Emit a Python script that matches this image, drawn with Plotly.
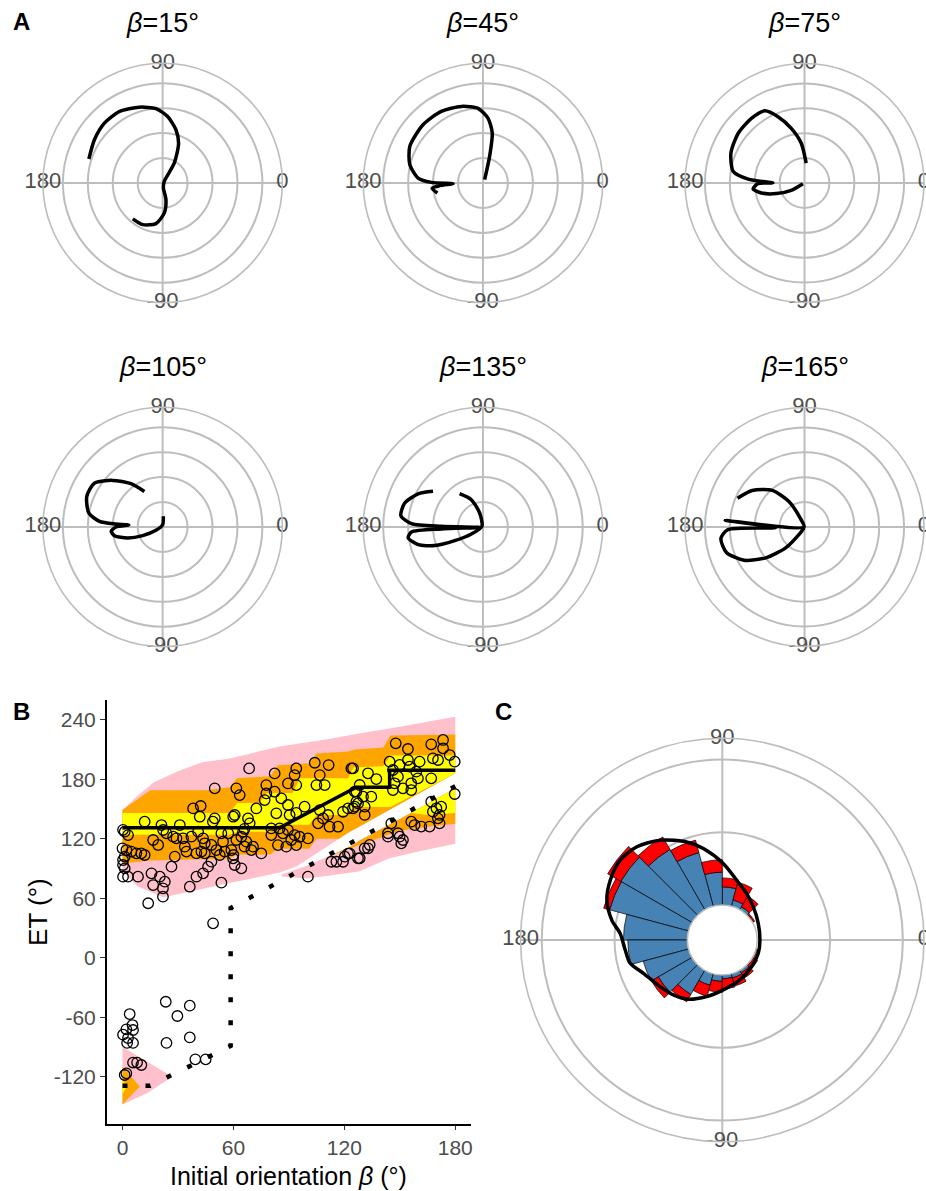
import plotly.graph_objects as go

W, H = 926, 1191
FONT = "Liberation Sans, Arial, Helvetica, sans-serif"
GRID = "#BDBDBD"
TICK_GREY = "#4D4D4D"

# ---------------- Panel A: heading trajectories (theta in deg, r in grid units) ----------------
theta_b15 = [-129.8, -115.6, -99.3, -86.8, -78.7, -82, 45, 59.7, 68.2, 76, 85.7, 95.1, 107.1, 121.2, 134.2, 147.6, 162]
r_b15 = [1.87, 1.85, 1.65, 1.2, 0.68, 0.2, 0.09, 0.93, 1.72, 2.2, 2.67, 2.99, 3.18, 3.35, 3.35, 3.24, 3.11]

theta_b45 = [63.4, 76, 79.4, 85.6, 93.8, 105.8, 120.2, 135.8, 153.4, 166, 175.6, 179.3, -178.7, -176.5, -174, -167.6]
r_b45 = [0.15, 1.1, 2.03, 2.61, 3.0, 3.19, 3.32, 3.35, 3.28, 3.02, 2.61, 2.07, 1.2, 1.74, 2.05, 1.87]

theta_b75 = [85.2, 94.8, 103.6, 111.8, 118.9, 129.4, 143.1, 157.9, 170.8, 176, 180, -179.2, -173.4, -167, -159.4, -151.2, -158]
r_b75 = [0.8, 1.61, 2.26, 2.87, 3.31, 3.36, 3.33, 3.19, 2.9, 2.27, 1.27, 1.87, 2.08, 1.78, 1.21, 0.61, 0.07]

theta_b105 = [117.2, 126.2, 137, 147.2, 158, 169.3, 174.9, 176.3, 176.6, 180, -175.2, -169.8, -162.6, -156.6, -153.4, 90, 86.4]
r_b105 = [1.6, 2.15, 2.74, 3.25, 3.28, 3.01, 2.54, 1.87, 1.36, 1.87, 2.07, 1.96, 1.47, 0.87, 0.3, 0.09, 0.43]

theta_b135 = [144.5, 152.9, 163, 172.2, 177.3, 179.1, -174, -177.3, -176, -171.7, -164.8, -158.9, -154.2, -149, 146, 103.4, 113.1, 125]
r_b135 = [2.46, 2.92, 3.28, 3.32, 2.87, 1.67, 0.13, 1.67, 2.87, 3.03, 2.69, 2.07, 1.26, 0.54, 0.05, 0.58, 1.19, 1.63]

theta_b165 = [156.7, 145, 131.4, 121.4, 115.6, 180, 175.2, -178.7, -178, -172.1, -161.9, -151.2, -141.5, -132.1, -126.5, -120]
r_b165 = [2.93, 2.56, 1.96, 1.2, 0.37, 0.02, 3.2, 1.16, 3.09, 3.39, 3.3, 2.77, 1.99, 1.13, 0.38, 0.03]

beta_titles = ["15", "45", "75", "105", "135", "165"]
angle_ticks = [0, 90, 180, 270]
angle_labels = ["0", "90", "180", "-90"]

# ---------------- Panel B: ET versus initial orientation ----------------
et_beta = [
    49.9, 38.2, 42.3, 41.8, 49.9, 48.9, 59.9, 12, 1.2, 3, 0.3, 21.1, 22, 23.8, 27.4, 31, 29.2, 32.8, 37.3, 16.6,
    19.3, 40.9, 43.6, 53.5, 57.2, 44.5, 48.1, 42.7, 54.4, 0, 2.1, 4.8, 7.5, 10.2, 12, 1.2, 0.3, 0.3, 1.2, 0.3,
    3, 8.4, 28.3, 34.6, 33.7, 40, 44.5, 50.8, 52.6, 55.3, 60, 48.1, 46.3, 43.6, 40, 26.5, 15.7, 20.2, 22.9, 16.6,
    21.9, 21.9, 13.9, 36.4, 53.5, 49,
    68.5, 82.3, 94, 93.1, 104, 111.5, 123.8, 89.5, 94, 106.7, 104.9, 109.4, 61.6, 63.4, 77.8, 77.8, 82.3, 85.9, 76.9,
    72.4, 83.2, 89.5, 90.4, 98.5, 94, 60.7, 67.9, 68.8, 66, 106.7, 111.2, 108.5, 105.8, 112, 116.6, 119.3, 122, 125.6,
    127.4, 126.5, 80.5, 85, 86.8, 89.5, 93.1, 95.8, 91.3, 94, 88.6, 84.1, 80.5, 100.3, 75.1, 65.2, 64.3, 61.6, 67, 66,
    70.6, 69.7, 58.9, 59.8, 60.7, 64.3, 113, 115.7, 119.3, 120.2, 127.4, 122, 100.3,
    147.8, 154.4, 167, 173.4, 173.4, 177, 179.7, 167.9, 170.7, 144.5, 154.4, 160.7, 149.9, 155.3, 124.7, 132.8, 137.3,
    146.3, 149, 158.9, 159.8, 167, 156.2, 151.7, 156.2, 147.2, 146.3, 128.3, 125.6, 130.1, 134.6, 126.5, 131, 124.7, 131,
    179.7, 167, 169.8, 172.4, 171.5, 170.6, 167.9, 145.4, 156.2, 158, 161.6, 166.1, 171.5, 143.6, 143.6, 149, 149.9,
    151.7, 150.8, 128.3, 131, 133.7, 132.8, 122.9,
    23.4, 36.4, 29.7, 3.9, 5.4, 2.1, 5.7, 0.3, 3, 2.5, 5.7, 23.8, 36.4, 5.7, 7.9, 10.2, 39.4, 45, 1.2, 2.1,
]
et_value = [
    170.8, 150.6, 153, 142.2, 140.6, 137.2, 142.2, 137.2, 127.1, 123.7, 129, 133.8, 128.8, 125.4, 122.1, 133.8, 120.4, 120.4, 122.1, 118.7,
    113.7, 127.1, 120.4, 125.4, 125.4, 115.4, 113.7, 107, 117, 110.3, 108.6, 107, 105.3, 105.3, 103.6, 102, 98.5, 93.5, 90.1, 81.7,
    81.7, 81.7, 102, 107, 112, 105.3, 105.3, 108.6, 103.6, 107, 103.6, 96.9, 91.8, 85.1, 81.7, 91.8, 85.1, 81.7, 76.7, 73.3,
    70, 61.6, 54.9, 71.6, 75.7, 34.7,
    190.9, 185.9, 190.9, 184.2, 196.6, 194.3, 190.9, 175.8, 174.1, 184.2, 174.1, 174.1, 170.8, 164, 174.1, 165.7, 167.4, 160.7, 159,
    150.6, 145.6, 154, 143.9, 152.3, 146, 143.9, 140.5, 135.5, 130, 148.9, 143.9, 140.5, 135.5, 132.1, 132.1, 147.2, 150.6, 152.3,
    155.6, 167.4, 130.4, 130.4, 125.4, 128.8, 123.7, 122, 118.7, 113.6, 112, 113.6, 123.7, 120.3, 105.2, 127.1, 122, 118.7, 117, 112,
    112, 108.6, 108.6, 100.2, 93.5, 90.1, 96.8, 96.8, 96.8, 101.9, 100.2, 105, 81.7,
    216.2, 210.5, 215.2, 219.6, 211.2, 204.4, 197.7, 201.1, 199.4, 197.7, 199.4, 197.7, 194.4, 192.7, 191, 186, 180.2,
    189.3, 182.6, 187.6, 180.9, 180.9, 175.9, 170.8, 169.1, 175.9, 169.1, 174.2, 167.5, 162.4, 162.4, 157.4, 152.3, 150.7, 144,
    165.1, 157.4, 150.7, 152.3, 144, 140.6, 147.3, 135.5, 137.2, 133.8, 132.2, 132.2, 135.5, 125.5, 122.1, 125.5, 122.1,
    118.7, 115.4, 100.3, 110.3, 113.7, 110.3, 105.3,
    -44.4, -48.4, -58.8, -56.8, -67.9, -72.2, -72.9, -77.6, -81, -85.9, -85.9, -85.9, -80.4, -105.8, -105.8, -108.2, -102.5, -102.5, -118.3, -116.6,
]

# median of the upper mode and model prediction
median_beta = [0, 85, 126.5, 144.5, 144.5, 180]
median_et = [131, 131, 172, 172, 189, 189]
model_beta = [0, 15, 58.5, 58.5, 180]
model_et = [-129, -129, -89, 50, 173]

# quantile ribbons of the upper mode
up_pink_hi_x = [0, 8, 17, 30, 43, 58, 85, 110, 128, 150, 165, 180]
up_pink_hi_y = [149, 163, 177, 188, 197, 201, 213, 220, 226, 233, 238, 243]
up_pink_lo_x = [0, 8, 22, 40, 57, 70, 85, 94, 123, 128, 180]
up_pink_lo_y = [88, 72, 61, 68, 75, 80, 86, 92, 127, 132, 186]
up_orange_hi_x = [0, 15, 45, 58, 62, 80, 84, 101, 105, 122, 126, 141, 145, 180]
up_orange_hi_y = [149, 169, 169, 172, 181, 183, 194, 196, 206, 208, 210, 212, 224, 225]
up_orange_lo_x = [0, 15, 58, 62, 80, 84, 101, 105, 117, 123, 128, 180]
up_orange_lo_y = [95, 98, 100, 104, 104, 110, 110, 120, 120, 127, 132, 186]
up_yellow_hi_x = [0, 58, 62, 74, 78, 92, 96, 122, 125, 141, 145, 180]
up_yellow_hi_y = [146, 146, 156, 156, 166, 166, 181, 181, 192, 193, 204, 204]
up_yellow_lo_x = [0, 58, 62, 80, 84, 101, 105, 122, 125, 145, 180]
up_yellow_lo_y = [124, 124, 127, 127, 134, 134, 144, 144, 152, 152, 186]

# quantile ribbons of the lower mode (right-hand branch)
lo_pink_hi_x = [86, 100, 123, 128, 150, 180]
lo_pink_hi_y = [84, 93, 112, 118, 140, 171]
lo_pink_lo_x = [86, 100, 128, 144, 160, 180]
lo_pink_lo_y = [82, 80, 87, 100, 107, 115]
lo_orange_hi_x = [110, 123, 128, 150, 180]
lo_orange_hi_y = [101, 112, 118, 140, 171]
lo_orange_lo_x = [110, 130, 150, 165, 180]
lo_orange_lo_y = [101, 115, 128, 132, 135]
lo_yellow_hi_x = [156, 180]
lo_yellow_hi_y = [146, 171]
lo_yellow_lo_x = [156, 165, 180]
lo_yellow_lo_y = [146, 144, 146]

# quantile ribbons of the lower mode (small-beta tail)
tail_pink_hi_x = [0, 27]
tail_pink_hi_y = [-90, -120]
tail_pink_lo_x = [0, 13, 27]
tail_pink_lo_y = [-148, -137, -120]
tail_orange_hi_x = [0, 9.4]
tail_orange_hi_y = [-110, -130]
tail_orange_lo_x = [0, 9.4]
tail_orange_lo_y = [-148, -130]
tail_yellow_hi_x = [0, 2.2]
tail_yellow_hi_y = [-123, -130]
tail_yellow_lo_x = [0, 2.2]
tail_yellow_lo_y = [-138, -130]

et_ticks = [-120, -60, 0, 60, 120, 180, 240]
beta_ticks = [0, 60, 120, 180]

# ---------------- Panel C: escape-direction distribution ----------------
bin_centres = [7.5, 22.5, 37.5, 52.5, 67.5, 82.5, 97.5, 112.5, 127.5, 142.5, 157.5, 172.5,
               187.5, 202.5, 217.5, 232.5, 247.5, 262.5, 277.5, 292.5, 307.5, 322.5, 337.5, 352.5]
count_blue = [0, 0, 0.14, 0.48, 0.89, 2.5, 4.52, 7.63, 9.56, 11.3, 11.22, 8.78,
              8.18, 6.44, 5.34, 3.84, 1.64, 0.88, 0.52, 0.59, 0.41, 0.14, 0, 0]
count_red = [0, 0, 0.2, 1.68, 2.53, 1.23, 1.71, 1.77, 1.99, 2.08, 0.84, 0,
             0, 0, 1.1, 1.16, 1.56, 1.51, 1.36, 1.15, 0.82, 0.66, 0.2, 0]
density_theta = [0, 24.8, 47.1, 62.5, 76.6, 89.3, 101.7, 110, 122, 132.5, 142, 151.9, 160.9, 169.8,
                 176.3, 185.9, 194.2, 202.9, 216.8, 228.3, 240.2, 254.5, 271.1, 293.8, 317.7, 339.7]
density_r = [0.37, 0.64, 1.44, 2.41, 3.66, 5.71, 8.03, 9.53, 11.34, 12.56, 13.0, 12.64, 11.97, 10.62,
             9.26, 8.6, 8.25, 6.95, 5.88, 5.3, 4.58, 3.26, 2.05, 1.19, 0.64, 0.47]

fig = go.Figure()

# ---- Panel A traces ----
trajectories = [(theta_b15, r_b15), (theta_b45, r_b45), (theta_b75, r_b75),
                (theta_b105, r_b105), (theta_b135, r_b135), (theta_b165, r_b165)]
RA_MAX = 4.8
for i, (th, rr) in enumerate(trajectories):
    sp = "polar" if i == 0 else f"polar{i + 1}"
    fig.add_trace(go.Scatterpolar(
        theta=th, r=rr, mode="lines", subplot=sp, hoverinfo="skip",
        line=dict(color="black", width=3.5, shape="spline", smoothing=0.7)))
    fig.add_trace(go.Scatterpolar(
        theta=angle_ticks, r=[RA_MAX] * 4, text=angle_labels, mode="text", subplot=sp,
        cliponaxis=False, hoverinfo="skip",
        textfont=dict(family=FONT, size=22, color=TICK_GREY)))

# ---- Panel B traces ----
def ribbon(hx, hy, lx, ly, colour):
    return go.Scatter(x=list(hx) + list(lx)[::-1], y=list(hy) + list(ly)[::-1],
                      fill="toself", fillcolor=colour, mode="none", hoverinfo="skip",
                      xaxis="x", yaxis="y")

PINK, ORANGE, YELLOW = "#FFC0CB", "#FFA500", "#FFFF00"
fig.add_trace(ribbon(up_pink_hi_x, up_pink_hi_y, up_pink_lo_x, up_pink_lo_y, PINK))
fig.add_trace(ribbon(lo_pink_hi_x, lo_pink_hi_y, lo_pink_lo_x, lo_pink_lo_y, PINK))
fig.add_trace(ribbon(tail_pink_hi_x, tail_pink_hi_y, tail_pink_lo_x, tail_pink_lo_y, PINK))
fig.add_trace(ribbon(up_orange_hi_x, up_orange_hi_y, up_orange_lo_x, up_orange_lo_y, ORANGE))
fig.add_trace(ribbon(lo_orange_hi_x, lo_orange_hi_y, lo_orange_lo_x, lo_orange_lo_y, ORANGE))
fig.add_trace(ribbon(tail_orange_hi_x, tail_orange_hi_y, tail_orange_lo_x, tail_orange_lo_y, ORANGE))
fig.add_trace(ribbon(up_yellow_hi_x, up_yellow_hi_y, up_yellow_lo_x, up_yellow_lo_y, YELLOW))
fig.add_trace(ribbon(lo_yellow_hi_x, lo_yellow_hi_y, lo_yellow_lo_x, lo_yellow_lo_y, YELLOW))
fig.add_trace(ribbon(tail_yellow_hi_x, tail_yellow_hi_y, tail_yellow_lo_x, tail_yellow_lo_y, YELLOW))

fig.add_trace(go.Scatter(x=model_beta, y=model_et, mode="lines", hoverinfo="skip",
                         line=dict(color="black", width=4.5, dash="5px,18px")))
fig.add_trace(go.Scatter(x=et_beta, y=et_value, mode="markers", hoverinfo="skip",
                         marker=dict(symbol="circle-open", size=10.5, color="black",
                                     line=dict(width=1.3, color="black"))))
fig.add_trace(go.Scatter(x=median_beta, y=median_et, mode="lines", hoverinfo="skip",
                         line=dict(color="black", width=3.5)))

# ---- Panel C traces ----
RC_MAX = 22.9
fig.add_trace(go.Barpolar(theta=bin_centres, r=count_blue, width=[15] * len(bin_centres),
                          subplot="polar7", hoverinfo="skip",
                          marker=dict(color="#4682B4", line=dict(color="black", width=0.7))))
fig.add_trace(go.Barpolar(theta=bin_centres, r=count_red, width=[15] * len(bin_centres),
                          subplot="polar7", hoverinfo="skip",
                          marker=dict(color="#FF0000", line=dict(color="black", width=0.7))))
fig.add_trace(go.Scatterpolar(theta=density_theta + density_theta[:1], r=density_r + density_r[:1],
                              mode="lines", subplot="polar7", hoverinfo="skip",
                              line=dict(color="black", width=3.5, shape="spline", smoothing=0.8)))
fig.add_trace(go.Scatterpolar(theta=angle_ticks, r=[RC_MAX] * 4, text=angle_labels, mode="text",
                              subplot="polar7", cliponaxis=False, hoverinfo="skip",
                              textfont=dict(family=FONT, size=22, color=TICK_GREY)))

# ---- Layout ----
def polar_box(cx, cy, rad, rmax, rticks, hole=0.0):
    x0, x1 = max((cx - rad) / W, 0), min((cx + rad) / W, 1)
    y0, y1 = (H - cy - rad) / H, (H - cy + rad) / H
    return dict(
        domain=dict(x=[x0, x1], y=[y0, y1]),
        bgcolor="rgba(0,0,0,0)",
        hole=hole,
        barmode="stack",
        radialaxis=dict(range=[0, rmax], tickvals=rticks, showticklabels=False, ticks="",
                        showline=False, gridcolor=GRID, gridwidth=1.6),
        angularaxis=dict(tickvals=angle_ticks, showticklabels=False, ticks="",
                         showline=True, linecolor=GRID, linewidth=1.6,
                         gridcolor=GRID, gridwidth=1.6,
                         direction="counterclockwise", rotation=0),
    )

centres_x = [163, 484, 806.5]
centres_y = [183, 527]
layout = dict(
    width=W, height=H, margin=dict(l=0, r=0, t=0, b=0),
    paper_bgcolor="white", plot_bgcolor="white", showlegend=False,
    font=dict(family=FONT),
)
for i in range(6):
    key = "polar" if i == 0 else f"polar{i + 1}"
    layout[key] = polar_box(centres_x[i % 3], centres_y[i // 3], 120, RA_MAX, [1, 2, 3, 4])
layout["polar7"] = polar_box(725.7, 940, 204, RC_MAX, [10, 20], hole=35 / 202)

layout["xaxis"] = dict(domain=[107 / W, 472 / W], range=[-8.5, 188.5], tickvals=beta_ticks,
                       ticktext=[str(v) for v in beta_ticks],
                       ticks="outside", ticklen=4, tickwidth=1.3, tickcolor="#333333",
                       showline=True, linecolor="black", linewidth=1.6, showgrid=False,
                       zeroline=False, tickfont=dict(size=21, color=TICK_GREY), anchor="y")
layout["yaxis"] = dict(domain=[(H - 1124) / H, (H - 700) / H], range=[-167.7, 259.9],
                       tickvals=et_ticks, ticktext=[str(v) for v in et_ticks],
                       ticks="outside", ticklen=5, tickwidth=1.3, tickcolor="#333333",
                       showline=True, linecolor="black", linewidth=1.6, showgrid=False,
                       zeroline=False, tickfont=dict(size=21, color=TICK_GREY), anchor="x")

ann = []
title_y = [23, 367]
for i, b in enumerate(beta_titles):
    ann.append(dict(text=f"<i>β</i>={b}°", x=centres_x[i % 3] / W, y=1 - title_y[i // 3] / H,
                    xref="paper", yref="paper", xanchor="center", yanchor="middle",
                    showarrow=False, font=dict(size=27, color="black", family=FONT)))
for lab, px, py in [("A", 11, 22), ("B", 11, 711), ("C", 494, 711)]:
    ann.append(dict(text=f"<b>{lab}</b>", x=px / W, y=1 - py / H, xref="paper", yref="paper",
                    xanchor="left", yanchor="middle", showarrow=False,
                    font=dict(size=24, color="black", family=FONT)))
ann.append(dict(text="ET (°)", x=38 / W, y=1 - 912 / H, xref="paper", yref="paper",
                xanchor="center", yanchor="middle", textangle=-90, showarrow=False,
                font=dict(size=26, color="black", family=FONT)))
ann.append(dict(text="Initial orientation <i>β</i> (°)", x=289 / W, y=1 - 1176 / H,
                xref="paper", yref="paper", xanchor="center", yanchor="middle", showarrow=False,
                font=dict(size=25, color="black", family=FONT)))
layout["annotations"] = ann

fig.update_layout(**layout)
fig.write_html("out.html")
